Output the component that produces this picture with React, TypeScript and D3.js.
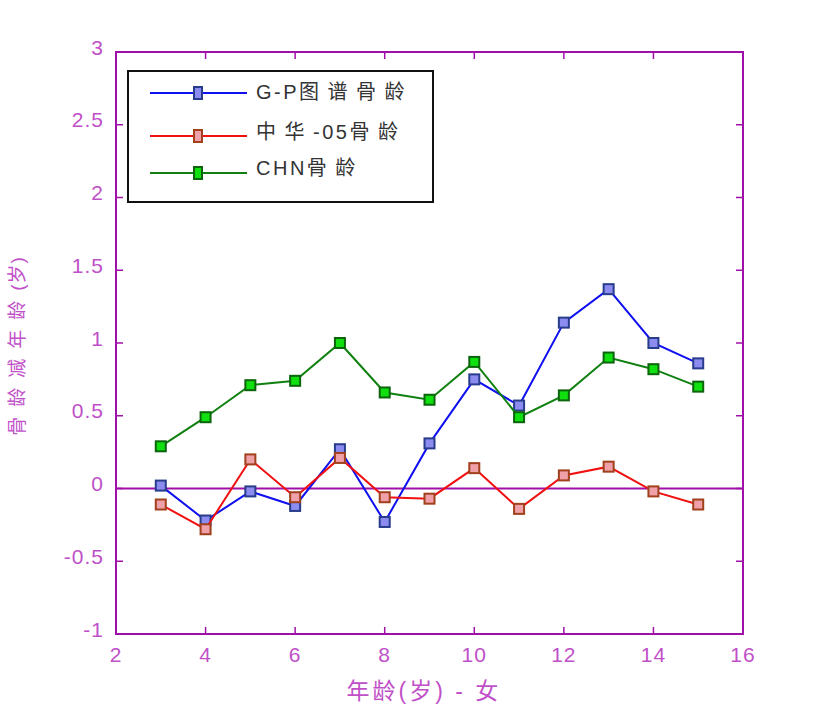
import React from "react";
import * as d3 from "d3";

const ages = [3, 4, 5, 6, 7, 8, 9, 10, 11, 12, 13, 14, 15];
const gpValues = [0.02, -0.22, -0.02, -0.12, 0.27, -0.23, 0.31, 0.75, 0.57, 1.14, 1.37, 1.0, 0.86];
const zh05Values = [-0.11, -0.28, 0.2, -0.06, 0.21, -0.06, -0.07, 0.14, -0.14, 0.09, 0.15, -0.02, -0.11];
const chnValues = [0.29, 0.49, 0.71, 0.74, 1.0, 0.66, 0.61, 0.87, 0.49, 0.64, 0.9, 0.82, 0.7];
const xTicks = [2, 4, 6, 8, 10, 12, 14, 16];
const yTicks = [-1, -0.5, 0, 0.5, 1, 1.5, 2, 2.5, 3];
// legend names split into latin / CJK runs for spacing
const seriesNameParts = [
  [["G-P", "latin"], ["图谱骨龄", "cjk"]],
  [["中华", "cjk"], ["-05", "latin"], ["骨龄", "cjk"]],
  [["CHN", "latin"], ["骨龄", "cjk"]],
];
const yLabelParts = [["骨龄减年龄", "cjk"], ["(岁)", "latin"]];
const xLabel = "年龄(岁) - 女";

const series = [
  { parts: seriesNameParts[0], values: gpValues, line: "#1010f0", stroke: "#283c8c", fill: "#8c8cf0" },
  { parts: seriesNameParts[1], values: zh05Values, line: "#f01010", stroke: "#a0401c", fill: "#f0a0a8" },
  { parts: seriesNameParts[2], values: chnValues, line: "#108010", stroke: "#0c640c", fill: "#10e010" },
];

const AXIS = "#a010a8";
const TEXT = "#c050c8";
const FONT = "Liberation Sans, Arial, Noto Sans CJK SC, sans-serif";

export default function App() {
  const W = 822, H = 720;
  const L = 116, R = 743, T = 52, B = 634;
  const x = d3.scaleLinear().domain([2, 16]).range([L, R]);
  const y = d3.scaleLinear().domain([-1, 3]).range([B, T]);
  const line = d3.line<number>().x((_, i) => x(ages[i])).y((v) => y(v));
  const ms = 10;
  const legendLines = [93, 136, 173];
  const legendText = [92, 132, 168];
  return (
    <svg width={W} height={H} style={{ position: "absolute", left: 0, top: 0, background: "#fff" }}
      fontFamily={FONT}>
      <rect x={0} y={0} width={W} height={H} fill="#fff" />
      {/* zero line */}
      <line x1={L} x2={R} y1={y(0)} y2={y(0)} stroke={AXIS} strokeWidth={2} />
      {/* ticks */}
      {xTicks.map((t) => (
        <g key={"x" + t}>
          <line x1={x(t)} x2={x(t)} y1={B} y2={B - 7} stroke={AXIS} strokeWidth={1.5} />
          <line x1={x(t)} x2={x(t)} y1={T} y2={T + 7} stroke={AXIS} strokeWidth={1.5} />
          <text x={x(t)} y={B + 20} textAnchor="middle" dominantBaseline="central" fontSize={21}
            letterSpacing={1} fill={TEXT}>{t}</text>
        </g>
      ))}
      {yTicks.map((t) => (
        <g key={"y" + t}>
          <line x1={L} x2={L + 7} y1={y(t)} y2={y(t)} stroke={AXIS} strokeWidth={1.5} />
          <line x1={R} x2={R - 7} y1={y(t)} y2={y(t)} stroke={AXIS} strokeWidth={1.5} />
          <text x={L - 12} y={y(t) - 5} textAnchor="end" dominantBaseline="central" fontSize={21}
            letterSpacing={1} fill={TEXT}>{t}</text>
        </g>
      ))}
      {/* series */}
      {series.map((s, si) => (
        <g key={"s" + si}>
          <path d={line(s.values) || ""} fill="none" stroke={s.line} strokeWidth={2} />
          {s.values.map((v, i) => (
            <rect key={i} x={x(ages[i]) - ms / 2} y={y(v) - ms / 2} width={ms} height={ms}
              fill={s.fill} stroke={s.stroke} strokeWidth={2} />
          ))}
        </g>
      ))}
      {/* frame */}
      <rect x={L} y={T} width={R - L} height={B - T} fill="none" stroke={AXIS} strokeWidth={2} />
      {/* legend */}
      <rect x={128} y={71} width={305} height={131} fill="#fff" stroke="#111" strokeWidth={2} />
      {series.map((s, i) => (
        <g key={"lg" + i}>
          <line x1={150} x2={247} y1={legendLines[i]} y2={legendLines[i]} stroke={s.line} strokeWidth={2} />
          <rect x={198 - 4} y={legendLines[i] - 6} width={8} height={12} fill={s.fill} stroke={s.stroke} strokeWidth={2} />
          <text x={256} y={legendText[i]} dominantBaseline="central" fontSize={20} fill="#333">
            {s.parts.map((p, j) => (
              <tspan key={j} letterSpacing={p[1] === "latin" ? 2.5 : 8.5}>{p[0]}</tspan>
            ))}
          </text>
        </g>
      ))}
      {/* axis labels */}
      <text x={424} y={691} textAnchor="middle" dominantBaseline="central" fontSize={23} letterSpacing={3}
        fill={TEXT}>{xLabel}</text>
      <text transform={`translate(17, 346) rotate(-90)`} textAnchor="middle" dominantBaseline="central"
        fontSize={19} fill={TEXT}>
        {yLabelParts.map((p, j) => (
          <tspan key={j} letterSpacing={p[1] === "latin" ? 1 : 10}>{p[0]}</tspan>
        ))}
      </text>
    </svg>
  );
}
